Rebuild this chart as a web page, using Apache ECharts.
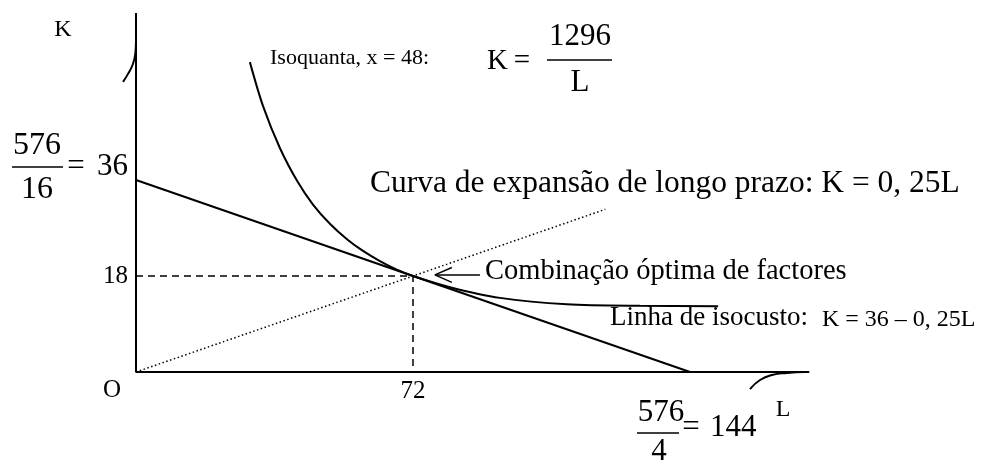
<!DOCTYPE html>
<html>
<head>
<meta charset="utf-8">
<script src="https://cdn.jsdelivr.net/npm/echarts@6/dist/echarts.min.js"></script>
<style>
  html, body { margin: 0; background: #fff; }
  #chart { width: 981px; height: 468px; }
</style>
</head>
<body>
<div id="chart"></div>
<script>
// data (L on x, K on y)
const axisLines = [[0, 67.3], [0, 0], [175, 0]]
const breakK = [[0, 62.3], [-0.13, 60.0], [-0.78, 57.8], [-2.08, 55.9], [-3.38, 54.4]]
const breakL = [[159.6, -3.2], [162.2, -1.5], [165.3, -0.56], [169.2, -0.19], [173.9, 0]]
const isocost = [[0, 36], [144, 0]]
const expansion = [[0, 0], [122, 30.5]]
const isoquant = [
  [29.6, 58.1], [33, 49.9], [37.4, 42.0], [41.9, 35.8], [46, 31.4],
  [50.4, 27.8], [55, 24.8], [59, 22.7], [63.4, 20.8], [67.8, 19.2], [72, 18],
  [81.6, 15.9], [94.6, 13.9], [112, 12.7], [131, 12.4], [151.3, 12.35]
]
const optimum = [[0, 18], [72, 18], [72, 0]]
const arrowShaft = [[77.7, 18.2], [89.4, 18.2]]
const arrowHead = [[82.1, 19.6], [77.7, 18.2], [82.1, 16.8]]
const xTicks = [72]
const yTicks = [18]

const serif = 'Liberation Serif'
const chart = echarts.init(document.getElementById('chart'))

// origin sits at (136, 372); 72 units of L = 277px, 18 units of K = 96px
const kx = 277 / 72
const ky = 96 / 18
const xMin = -18, xMax = 180, yMin = -6, yMax = 68

const txt = (text, x, y, size, align = 'left') => ({
  type: 'text', x, y, silent: true,
  style: { text, font: `${size}px "${serif}"`, fill: '#000', align, verticalAlign: 'middle' }
})
const bar = (x1, x2, y) => ({
  type: 'line', silent: true,
  shape: { x1, y1: y, x2, y2: y },
  style: { stroke: '#000', lineWidth: 1.5 }
})

const line = (data, style = {}, extra = {}) => ({
  type: 'line', data, symbol: 'none', clip: false, silent: true,
  lineStyle: { color: '#000', width: 2, ...style },
  ...extra
})

chart.setOption({
  animation: false,
  backgroundColor: '#fff',
  grid: {
    left: 136 + xMin * kx, width: (xMax - xMin) * kx,
    top: 372 - yMax * ky, height: (yMax - yMin) * ky
  },
  xAxis: {
    type: 'value', min: xMin, max: xMax, interval: 18,
    // move the (hidden) axis up onto K = 0
    offset: yMin * ky,
    axisLine: { show: false, onZero: false }, axisTick: { show: false }, splitLine: { show: false },
    axisLabel: {
      margin: 7, color: '#000', fontFamily: serif, fontSize: 25,
      formatter: v => xTicks.includes(v) ? String(v) : ''
    }
  },
  yAxis: {
    type: 'value', min: yMin, max: yMax, interval: 6,
    offset: xMin * kx,
    axisLine: { show: false, onZero: false }, axisTick: { show: false }, splitLine: { show: false },
    axisLabel: {
      margin: 8, color: '#000', fontFamily: serif, fontSize: 25,
      formatter: v => yTicks.includes(v) ? String(v) : ''
    }
  },
  series: [
    line(axisLines),
    line(breakK, {}, { smooth: true }),
    line(breakL, {}, { smooth: true }),
    line(isocost),
    line(isoquant, {}, { smooth: 0.3 }),
    line(expansion, { type: [1.5, 2.5], width: 1.5 }),
    line(optimum, { type: [7, 5], width: 1.5 }),
    line(arrowShaft, { width: 1.5 }),
    line(arrowHead, { width: 1.5 })
  ],
  graphic: [
    txt('K', 63, 30, 24, 'center'),
    txt('O', 112, 390, 25, 'center'),
    txt('L', 783, 410, 24, 'center'),
    // 576/16 = 36
    txt('576', 37, 146, 32, 'center'),
    bar(12, 63, 167),
    txt('16', 37, 190, 32, 'center'),
    txt('=', 76, 167, 31, 'center'),
    txt('36', 97, 167, 31),
    // isoquant label
    txt('Isoquanta, x = 48:', 270, 58, 22),
    txt('K', 487, 61, 29),
    txt('=', 522, 61, 29, 'center'),
    txt('1296', 580, 37, 31, 'center'),
    bar(547, 612, 60),
    txt('L', 580, 83, 31, 'center'),
    // expansion path
    txt('Curva de expansão de longo prazo: K = 0, 25L', 370, 184, 31.5),
    txt('Combinação óptima de factores', 485, 272, 28.5),
    txt('Linha de isocusto:', 610, 318, 27),
    txt('K = 36 – 0, 25L', 822, 320, 24),
    // 576/4 = 144
    txt('576', 661, 413, 31, 'center'),
    bar(637, 679, 433),
    txt('4', 659, 452, 31, 'center'),
    txt('=', 691, 428, 31, 'center'),
    txt('144', 710, 428, 31)
  ]
})
</script>
</body>
</html>
